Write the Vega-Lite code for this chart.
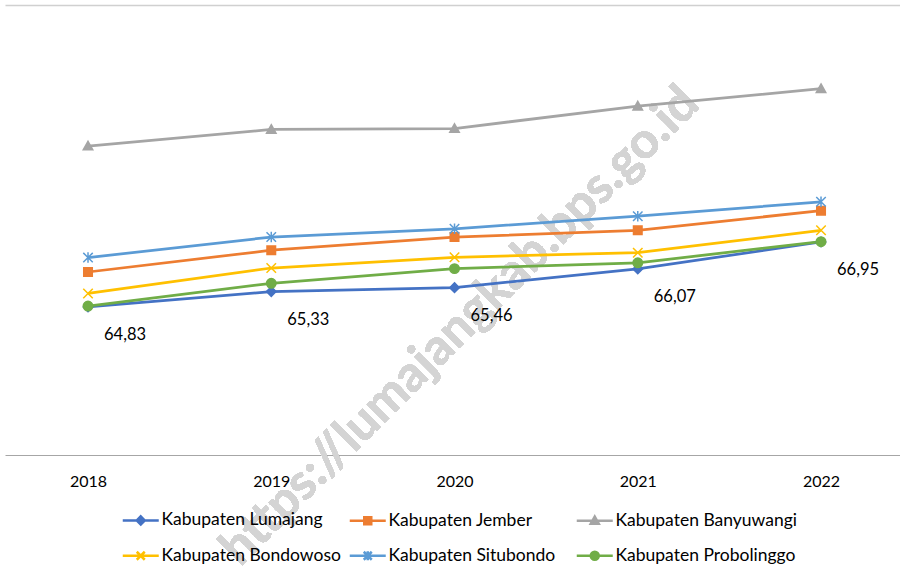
{
  "$schema": "https://vega.github.io/schema/vega-lite/v6.json",
  "width": 895,
  "height": 450,
  "autosize": {"type": "none"},
  "padding": {"left": 5, "top": 5, "right": 0, "bottom": 124},
  "background": "white",
  "config": {
    "view": {"stroke": null},
    "locale": {"number": {"decimal": ",", "thousands": ".", "grouping": [3], "currency": ["", ""]}}
  },
  "data": {
    "values": [
      {"year": 2018, "name": "Kabupaten Lumajang", "value": 64.83},
      {"year": 2019, "name": "Kabupaten Lumajang", "value": 65.33},
      {"year": 2020, "name": "Kabupaten Lumajang", "value": 65.46},
      {"year": 2021, "name": "Kabupaten Lumajang", "value": 66.07},
      {"year": 2022, "name": "Kabupaten Lumajang", "value": 66.95},
      {"year": 2018, "name": "Kabupaten Jember", "value": 65.97},
      {"year": 2019, "name": "Kabupaten Jember", "value": 66.68},
      {"year": 2020, "name": "Kabupaten Jember", "value": 67.11},
      {"year": 2021, "name": "Kabupaten Jember", "value": 67.33},
      {"year": 2022, "name": "Kabupaten Jember", "value": 67.97},
      {"year": 2018, "name": "Kabupaten Banyuwangi", "value": 70.08},
      {"year": 2019, "name": "Kabupaten Banyuwangi", "value": 70.62},
      {"year": 2020, "name": "Kabupaten Banyuwangi", "value": 70.65},
      {"year": 2021, "name": "Kabupaten Banyuwangi", "value": 71.38},
      {"year": 2022, "name": "Kabupaten Banyuwangi", "value": 71.95},
      {"year": 2018, "name": "Kabupaten Bondowoso", "value": 65.27},
      {"year": 2019, "name": "Kabupaten Bondowoso", "value": 66.10},
      {"year": 2020, "name": "Kabupaten Bondowoso", "value": 66.45},
      {"year": 2021, "name": "Kabupaten Bondowoso", "value": 66.60},
      {"year": 2022, "name": "Kabupaten Bondowoso", "value": 67.33},
      {"year": 2018, "name": "Kabupaten Situbondo", "value": 66.44},
      {"year": 2019, "name": "Kabupaten Situbondo", "value": 67.11},
      {"year": 2020, "name": "Kabupaten Situbondo", "value": 67.38},
      {"year": 2021, "name": "Kabupaten Situbondo", "value": 67.79},
      {"year": 2022, "name": "Kabupaten Situbondo", "value": 68.26},
      {"year": 2018, "name": "Kabupaten Probolinggo", "value": 64.86},
      {"year": 2019, "name": "Kabupaten Probolinggo", "value": 65.60},
      {"year": 2020, "name": "Kabupaten Probolinggo", "value": 66.08},
      {"year": 2021, "name": "Kabupaten Probolinggo", "value": 66.27},
      {"year": 2022, "name": "Kabupaten Probolinggo", "value": 66.96}
    ]
  },
  "encoding": {
    "x": {
      "field": "year", "type": "quantitative",
      "scale": {"domain": [2017.547, 2022.431], "nice": false, "zero": false},
      "axis": {"values": [2018, 2019, 2020, 2021, 2022], "format": "d", "title": null, "grid": false, "ticks": false,
        "labelFont": "Lato", "labelFontSize": 16, "labelColor": "#000000", "labelPadding": 18,
        "domainColor": "#a6a6a6", "domainWidth": 1}
    },
    "y": {
      "field": "value", "type": "quantitative",
      "scale": {"domain": [60, 74.68], "nice": false, "zero": false},
      "axis": {"values": [74.68], "title": null, "labels": false, "ticks": false, "domain": false,
        "grid": true, "gridColor": "#d0d0d0", "gridWidth": 1.5}
    }
  },
  "layer": [
    {
      "mark": {"type": "text", "angle": -45, "font": "Lato", "fontWeight": "bold", "fontSize": 50, "fill": "#d4d4d4", "opacity": 0.75, "align": "center", "baseline": "middle"},
      "encoding": {
        "x": {"datum": 2020.03},
        "y": {"datum": 64.2},
        "text": {"value": "https://lumajangkab.bps.go.id"}
      }
    },
    {
      "mark": {"type": "line", "strokeWidth": 2.75},
      "encoding": {
        "color": {
          "field": "name", "type": "nominal",
          "scale": {
            "domain": ["Kabupaten Lumajang", "Kabupaten Jember", "Kabupaten Banyuwangi", "Kabupaten Bondowoso", "Kabupaten Situbondo", "Kabupaten Probolinggo"],
            "range": ["#4472C4", "#ED7D31", "#A5A5A5", "#FFC000", "#5B9BD5", "#70AD47"]
          },
          "legend": {
            "orient": "none", "legendX": 127, "legendY": 506, "direction": "horizontal", "columns": 3,
            "title": null, "labelFont": "Lato", "labelFontSize": 17.5, "labelColor": "#000000",
            "symbolSize": 100, "symbolStrokeWidth": 2.5, "labelOffset": 12, "columnPadding": 0, "rowPadding": 16,
            "gridAlign": "all", "labelLimit": 300,
            "encode": {
              "symbols": {
                "update": {
                  "shape": {"signal": "datum.value === 'Kabupaten Lumajang' ? 'M-3.6,0H3.6M0,-0.8L0.8,0L0,0.8L-0.8,0Z' : datum.value === 'Kabupaten Jember' ? 'M-3.6,0H3.6M-0.7,-0.7H0.7V0.7H-0.7Z' : datum.value === 'Kabupaten Banyuwangi' ? 'M-3.6,0H3.6M0,-0.8L0.8,0.6H-0.8Z' : datum.value === 'Kabupaten Bondowoso' ? 'M-3.6,0H3.6M-0.8,-0.8L0.8,0.8M-0.8,0.8L0.8,-0.8' : datum.value === 'Kabupaten Situbondo' ? 'M-3.6,0H3.6M-0.8,-0.8L0.8,0.8M-0.8,0.8L0.8,-0.8M0,-0.9V0.9' : 'M-3.6,0H3.6M0.8,0A0.8,0.8 0 1,1 -0.8,0A0.8,0.8 0 1,1 0.8,0Z'"},
                  "fill": {"scale": "color", "field": "value"},
                  "strokeWidth": {"value": 2.5},
                  "opacity": {"value": 1}
                }
              }
            }
          }
        }
      }
    },
    {
      "transform": [{"filter": "datum.name === 'Kabupaten Lumajang'"}],
      "mark": {"type": "point", "shape": "M0,-1L1,0L0,1L-1,0Z", "filled": true, "fill": "#4472C4", "stroke": "#4472C4", "size": 90, "strokeWidth": 1.5, "opacity": 1}
    },
    {
      "transform": [{"filter": "datum.name === 'Kabupaten Jember'"}],
      "mark": {"type": "point", "shape": "M-0.9,-0.9H0.9V0.9H-0.9Z", "filled": true, "fill": "#ED7D31", "stroke": "#ED7D31", "size": 90, "strokeWidth": 1.5, "opacity": 1}
    },
    {
      "transform": [{"filter": "datum.name === 'Kabupaten Banyuwangi'"}],
      "mark": {"type": "point", "shape": "M0,-1L1,0.8H-1Z", "filled": true, "fill": "#A5A5A5", "stroke": "#A5A5A5", "size": 90, "strokeWidth": 1.5, "opacity": 1}
    },
    {
      "transform": [{"filter": "datum.name === 'Kabupaten Bondowoso'"}],
      "mark": {"type": "point", "shape": "M-1,-1L1,1M-1,1L1,-1", "filled": false, "stroke": "#FFC000", "size": 90, "strokeWidth": 1.5, "opacity": 1}
    },
    {
      "transform": [{"filter": "datum.name === 'Kabupaten Situbondo'"}],
      "mark": {"type": "point", "shape": "M-1,-1L1,1M-1,1L1,-1M0,-1.1V1.1", "filled": false, "stroke": "#5B9BD5", "size": 90, "strokeWidth": 1.5, "opacity": 1}
    },
    {
      "transform": [{"filter": "datum.name === 'Kabupaten Probolinggo'"}],
      "mark": {"type": "point", "shape": "M1,0A1,1 0 1,1 -1,0A1,1 0 1,1 1,0Z", "filled": true, "fill": "#70AD47", "stroke": "#70AD47", "size": 90, "strokeWidth": 1.5, "opacity": 1}
    },
    {
      "transform": [{"filter": "datum.name === 'Kabupaten Lumajang'"}],
      "mark": {"type": "text", "dx": 37, "dy": 28, "font": "Lato", "fontSize": 16.5, "fill": "#000000", "align": "center", "baseline": "middle"},
      "encoding": {
        "text": {"field": "value", "type": "quantitative", "format": ".2f"}
      }
    }
  ]
}
